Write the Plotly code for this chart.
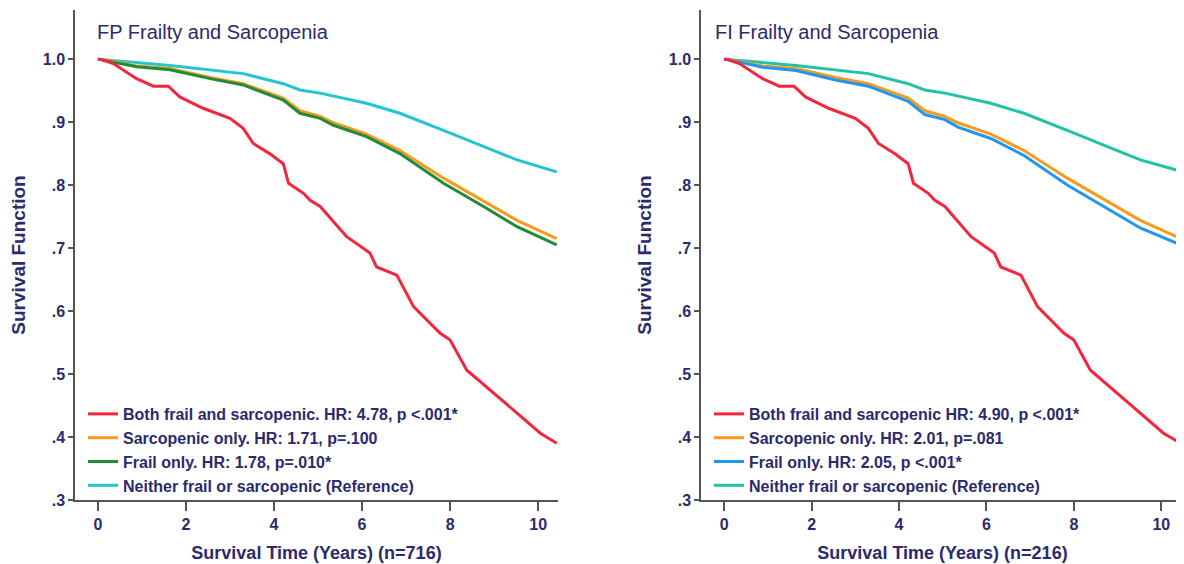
import plotly.graph_objects as go

# ---------------- data ----------------
# Left panel: FP Frailty and Sarcopenia
fp_both_t = [0, 0.05, 0.35, 0.88, 1.26, 1.6, 1.86, 2.39, 3.0, 3.3, 3.53, 3.9, 4.21, 4.33, 4.67, 4.82, 5.05,
             5.65, 6.18, 6.33, 6.79, 7.17, 7.77, 8.0, 8.38, 8.91, 9.52, 10.05, 10.42]
fp_both_s = [1.0, 1.0, 0.993, 0.969, 0.957, 0.957, 0.94, 0.922, 0.906, 0.89, 0.866, 0.85, 0.834, 0.803, 0.787,
             0.776, 0.766, 0.718, 0.692, 0.67, 0.657, 0.607, 0.565, 0.554, 0.506, 0.475, 0.438, 0.406, 0.39]

fp_sarc_t = [0, 0.3, 0.88, 1.64, 2.55, 3.3, 4.21, 4.59, 5.05, 5.35, 6.1, 6.86, 7.85, 8.76, 9.52, 10.42]
fp_sarc_s = [1.0, 0.997, 0.989, 0.985, 0.971, 0.961, 0.938, 0.918, 0.909, 0.899, 0.881, 0.855, 0.811, 0.775,
             0.744, 0.715]

fp_frail_t = [0, 0.3, 0.88, 1.64, 2.55, 3.3, 4.21, 4.59, 5.05, 5.35, 6.1, 6.86, 7.85, 8.76, 9.52, 10.42]
fp_frail_s = [1.0, 0.996, 0.988, 0.983, 0.969, 0.959, 0.935, 0.914, 0.906, 0.895, 0.877, 0.85, 0.803, 0.766,
              0.734, 0.705]

fp_none_t = [0, 0.5, 1.64, 3.3, 4.21, 4.59, 5.05, 6.1, 6.86, 7.85, 8.76, 9.52, 10.42]
fp_none_s = [1.0, 0.997, 0.99, 0.977, 0.961, 0.951, 0.946, 0.93, 0.914, 0.887, 0.861, 0.84, 0.821]

# Right panel: FI Frailty and Sarcopenia
fi_both_t = [0, 0.05, 0.35, 0.88, 1.26, 1.6, 1.86, 2.39, 3.0, 3.3, 3.53, 3.9, 4.21, 4.33, 4.67, 4.82, 5.05,
             5.65, 6.18, 6.33, 6.79, 7.17, 7.77, 8.0, 8.38, 8.91, 9.52, 10.05, 10.45]
fi_both_s = [1.0, 1.0, 0.993, 0.969, 0.957, 0.957, 0.94, 0.922, 0.906, 0.89, 0.866, 0.85, 0.834, 0.803, 0.787,
             0.776, 0.766, 0.718, 0.692, 0.67, 0.657, 0.607, 0.565, 0.554, 0.506, 0.475, 0.438, 0.406, 0.39]

fi_sarc_t = [0, 0.3, 0.88, 1.64, 2.55, 3.3, 4.21, 4.59, 5.05, 5.35, 6.1, 6.86, 7.85, 8.76, 9.52, 10.45]
fi_sarc_s = [1.0, 0.997, 0.989, 0.985, 0.971, 0.961, 0.938, 0.918, 0.909, 0.899, 0.881, 0.855, 0.811, 0.775,
             0.744, 0.715]

fi_frail_t = [0, 0.3, 0.88, 1.64, 2.55, 3.3, 4.21, 4.59, 5.05, 5.35, 6.1, 6.86, 7.85, 8.76, 9.52, 10.45]
fi_frail_s = [1.0, 0.996, 0.987, 0.982, 0.967, 0.957, 0.933, 0.912, 0.904, 0.892, 0.874, 0.847, 0.8, 0.763,
              0.732, 0.705]

fi_none_t = [0, 0.5, 1.64, 3.3, 4.21, 4.59, 5.05, 6.1, 6.86, 7.85, 8.76, 9.52, 10.45]
fi_none_s = [1.0, 0.997, 0.99, 0.977, 0.961, 0.951, 0.946, 0.93, 0.914, 0.887, 0.861, 0.84, 0.822]

fp_labels = ["Both frail and sarcopenic. HR: 4.78, p <.001*",
             "Sarcopenic only. HR: 1.71, p=.100",
             "Frail only. HR: 1.78, p=.010*",
             "Neither frail or sarcopenic (Reference)"]
fi_labels = ["Both frail and sarcopenic HR: 4.90, p <.001*",
             "Sarcopenic only. HR: 2.01, p=.081",
             "Frail only. HR: 2.05, p <.001*",
             "Neither frail or sarcopenic (Reference)"]

panel_titles = ["FP Frailty and Sarcopenia", "FI Frailty and Sarcopenia"]
x_titles = ["Survival Time (Years) (n=716)", "Survival Time (Years) (n=216)"]
y_title = "Survival Function"
x_tickvals = [0, 2, 4, 6, 8, 10]
y_tickvals = [0.3, 0.4, 0.5, 0.6, 0.7, 0.8, 0.9, 1.0]
y_ticktext = [".3", ".4", ".5", ".6", ".7", ".8", ".9", "1.0"]

# ---------------- styling ----------------
NAVY = "#2c2a6c"
AXIS = "#555555"
FONT = "Liberation Sans, Arial, sans-serif"
left_colors = ["#f2263f", "#f99a1c", "#1f8b3b", "#22c6d2"]
right_colors = ["#f2263f", "#f99a1c", "#2196f0", "#1fc4a6"]

fig = go.Figure()

left_series = [(fp_both_t, fp_both_s), (fp_sarc_t, fp_sarc_s), (fp_frail_t, fp_frail_s), (fp_none_t, fp_none_s)]
right_series = [(fi_both_t, fi_both_s), (fi_sarc_t, fi_sarc_s), (fi_frail_t, fi_frail_s), (fi_none_t, fi_none_s)]

for i in [3, 1, 2, 0]:
    t, s = left_series[i]
    fig.add_trace(go.Scatter(x=t, y=s, mode="lines", name=fp_labels[i],
                             line=dict(color=left_colors[i], width=3),
                             xaxis="x", yaxis="y", legend="legend", legendrank=i + 1))
for i in [3, 1, 2, 0]:
    t, s = right_series[i]
    fig.add_trace(go.Scatter(x=t, y=s, mode="lines", name=fi_labels[i],
                             line=dict(color=right_colors[i], width=3),
                             xaxis="x2", yaxis="y2", legend="legend2", legendrank=i + 1))

H = 564.0
W = 1184.0
OFF = 8  # page offset of the figure inside the browser window
ydom = [(H - (500 - OFF)) / H, (H - (10 - OFF)) / H]

axis_common = dict(showline=True, linecolor=AXIS, linewidth=1.5, ticks="outside",
                   tickcolor=AXIS, showgrid=False, zeroline=False,
                   tickfont=dict(family=FONT, size=16, color=NAVY, weight="bold"),
                   automargin=False)

xa = dict(axis_common, tickvals=x_tickvals, ticklen=9, tickwidth=1.5,
          title=dict(font=dict(family=FONT, size=18, color=NAVY, weight="bold"), standoff=14))
ya = dict(axis_common, tickvals=y_tickvals, ticktext=y_ticktext, ticklen=5, tickwidth=1.5,
          range=[0.3, 1.078], domain=ydom,
          title=dict(text=y_title, font=dict(family=FONT, size=19, color=NAVY, weight="bold"), standoff=12))

legend_font = dict(family=FONT, size=16, color=NAVY, weight="bold")

fig.update_layout(
    width=1184, height=564,
    margin=dict(l=0, r=0, t=0, b=0),
    paper_bgcolor="white", plot_bgcolor="white",
    font=dict(family=FONT, color=NAVY),
    xaxis=dict(xa, domain=[(75 - OFF) / W, (558 - OFF) / W], range=[-0.52, 10.45], anchor="y",
               title=dict(xa["title"], text=x_titles[0])),
    yaxis=dict(ya, anchor="x"),
    xaxis2=dict(xa, domain=[(701 - OFF) / W, (1184 - OFF) / W], range=[-0.53, 10.52], anchor="y2",
                title=dict(xa["title"], text=x_titles[1])),
    yaxis2=dict(ya, anchor="x2"),
    legend=dict(x=75 / W, y=(H - 389) / H, xanchor="left", yanchor="top",
                bgcolor="rgba(0,0,0,0)", tracegroupgap=0, font=legend_font),
    legend2=dict(x=701 / W, y=(H - 389) / H, xanchor="left", yanchor="top",
                 bgcolor="rgba(0,0,0,0)", tracegroupgap=0, font=legend_font),
    showlegend=True,
    annotations=[
        dict(text=panel_titles[0], xref="paper", yref="paper", x=(95 - OFF) / W, y=(H - (32 - OFF)) / H,
             xanchor="left", yanchor="middle", showarrow=False,
             font=dict(family=FONT, size=20, color=NAVY)),
        dict(text=panel_titles[1], xref="paper", yref="paper", x=(713 - OFF) / W, y=(H - (32 - OFF)) / H,
             xanchor="left", yanchor="middle", showarrow=False,
             font=dict(family=FONT, size=20, color=NAVY)),
    ],
)

fig.write_html("out.html")
